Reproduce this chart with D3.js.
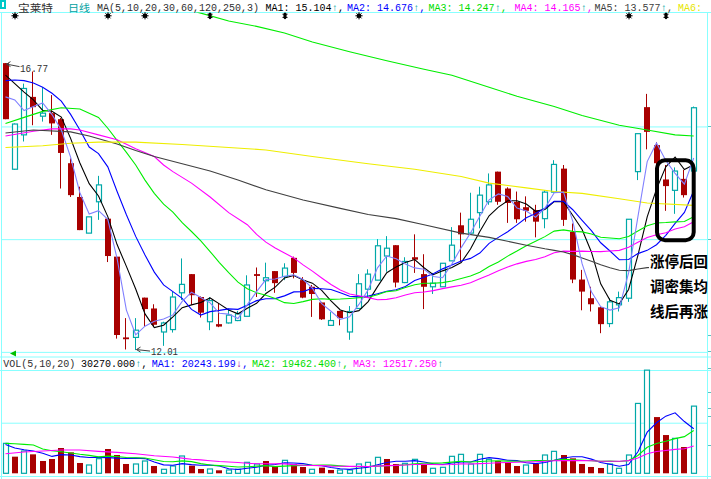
<!DOCTYPE html>
<html><head><meta charset="utf-8">
<script src="https://cdn.jsdelivr.net/npm/d3@7"></script>
<style>
html,body{margin:0;padding:0;background:#fff;overflow:hidden}
svg{display:block}
</style></head><body>
<svg id="c" width="711" height="479"></svg>
<script>
// ---------- data ----------
const open  = [16.77,15.01,15.58,16.21,15.89,15.94,15.84,15.11,14.55,13.95, 14.47,14.19,13.56,12.22,12.22,12.88,12.70,12.31,12.35,12.96, 13.27,12.89,12.48,12.44,12.46,12.50,12.57,13.27,13.16,13.32, 13.23,13.54,13.17,13.06,12.80,12.42,12.66,12.31,12.70,13.02, 13.17,13.57,13.75,13.13,13.55,13.27,13.06,13.06,13.49,14.08, 13.95,14.29,14.47,14.97,14.69,14.47,14.38,14.33,14.19,14.63, 15.02,13.97,13.18,12.87,12.72,12.45,12.76,12.87,14.97,16.04, 15.41,14.84,14.66,14.85,14.98];
const high  = [16.77,15.77,16.43,16.63,16.37,16.24,15.86,15.19,14.72,14.22, 14.90,14.19,13.56,12.54,12.54,12.88,12.77,12.48,12.98,13.53, 13.27,12.90,12.89,12.79,12.70,12.66,13.25,13.38,13.46,13.32, 13.45,13.56,13.22,13.09,12.81,12.64,12.66,12.74,13.27,13.35, 13.85,13.90,13.75,13.55,13.93,13.60,13.29,13.45,14.05,14.29, 14.62,14.72,14.94,14.97,14.71,14.64,14.56,14.42,14.66,15.16, 15.08,14.11,13.34,13.06,12.73,12.87,12.98,14.18,15.60,16.26, 15.46,15.08,15.04,15.00,16.05];
const low   = [15.84,15.00,15.47,15.74,15.80,15.58,14.69,14.55,14.00,13.95, 14.17,13.47,12.20,12.02,12.01,12.40,12.40,12.08,12.30,12.84, 12.76,12.55,12.34,12.39,12.45,12.49,12.57,12.89,12.99,12.96, 13.17,13.20,12.87,12.56,12.51,12.42,12.42,12.18,12.70,12.89, 13.17,13.31,13.05,13.12,13.29,12.69,12.94,13.06,13.49,13.47, 13.95,14.03,14.42,14.42,14.12,14.12,14.14,13.88,14.03,14.63, 14.07,13.12,12.67,12.65,12.29,12.39,12.65,12.81,14.83,15.34, 15.08,14.32,14.27,14.54,14.98];
const close = [15.84,15.76,16.35,16.04,15.94,15.77,15.28,14.58,14.00,14.22, 14.75,13.57,12.26,12.19,12.34,12.69,12.43,12.46,12.89,13.10, 12.92,12.63,12.83,12.40,12.59,12.61,13.09,13.24,13.21,13.12, 13.37,13.29,12.88,12.94,12.52,12.50,12.54,12.65,13.11,13.27, 13.74,13.70,13.13,13.48,13.51,13.06,13.12,13.45,13.75,13.93, 14.18,14.58,14.75,14.47,14.45,14.18,14.32,14.14,14.63,15.09, 14.17,13.18,12.98,12.77,12.44,12.81,12.88,14.18,15.60,15.63, 15.11,14.73,14.98,14.58,16.03];
const volume = [13494,7497,10045,8546,5547,6447,11395,9446,4648,3748, 6597,10945,8246,4198,4198,5547,3298,1799,3298,7797, 3448,1949,1949,1349,1499,1799,4948,4198,5547,3298, 5847,4198,2849,1799,2549,1499,1499,1499,4198,4948, 7197,6447,4198,4498,6297,4198,2249,2699,7647,8546, 4198,8546,6297,5547,4948,3298,3748,4198,8246,9896, 8246,6747,4198,2849,2399,4198,2249,8246,31486,46479, 25338,17242,15743,11845,30270];
const firstVolUp = true;   // colour of the first volume bar (previous close is off-chart)

const ma3Lead  = [[0,16.21],[1,16.16]];
const ma5Lead  = [[0,16.57],[1,16.43],[2,16.29],[3,16.16]];
const ma10Lead = [[0,16.48],[1,16.49],[2,16.48],[3,16.44],[4,16.37],[5,16.27],[6,16.14],[7,15.92],[8,15.66]];
const ma20Lead = [[0,15.77],[2,15.87],[4,15.97],[6,16.03],[8,16.01],[10,15.87],[11,15.69],[12,15.49],[13,15.29],[14,15.08],[15,14.83],[16,14.61],[17,14.43],[18,14.30]];
const ma30Lead = [[0,15.56],[3,15.64],[5,15.68],[7,15.68],[8,15.66],[10,15.58],[12,15.50],[14,15.35],[16,15.22],[17,15.08],[18,14.97],[20,14.78],[22,14.55],[24,14.29],[26,14.09],[27,13.93],[28,13.80]];
const ma60Lead = [[0,15.61],[3,15.66],[7,15.63],[9,15.56],[12,15.43],[14,15.32],[16,15.22],[19,15.10],[22,14.98],[25,14.83],[28,14.67],[32,14.50],[36,14.36],[39,14.26],[42,14.19],[45,14.09],[49,13.95],[52,13.88],[56,13.75],[58,13.69]];
const ma120Pts = [[0,15.37],[4,15.40],[7,15.44],[10,15.46],[14,15.46],[19,15.42],[24,15.37],[28,15.33],[33,15.22],[39,15.10],[44,15.01],[49,14.89],[52,14.78],[56,14.70],[59,14.64],[62,14.61],[66,14.52],[69,14.45],[74,14.41]];
const ma250Pts = [[20,17.64],[21,17.60],[24,17.47],[27,17.38],[30,17.27],[33,17.12],[37,16.96],[41,16.81],[45,16.67],[48,16.57],[52,16.37],[55,16.22],[59,16.05],[62,15.90],[66,15.74],[69,15.66],[72,15.58],[74,15.56]];
const vma5Lead  = [[0,13000],[1,11380],[2,10600],[3,10030]];
const vma10Lead = [[0,13490],[1,13300],[2,13040],[3,12730],[4,10930],[5,10170],[6,9720],[7,9130],[8,8550]];
const vma20Lead = [[0,8816],[2,9580],[4,10030],[6,10480],[8,10480],[10,9900],[12,9440],[14,8820],[16,7920],[18,7330]];

const gridPrices = [15.72, 13.85, 11.98];
const gridVol = [22800];
const maxLabel = "16.77", minLabel = "12.01";
const markerIdx  = [1,11,15,22,30,38,67,71];
const markerType = ["burst","burst","burst","spindle","spindle","burst","burst","spindle"];

const header1 = [
  {t:"MA(5,10,20,30,60,120,250,3)", c:"#303030", x:97},
  {t:"MA1: 15.104", c:"#000000", x:265.5, a:"↑"},
  {t:"MA2: 14.676", c:"#0000ff", x:347,   a:"↑"},
  {t:"MA3: 14.247", c:"#00dd00", x:428.5, a:"↑"},
  {t:"MA4: 14.165", c:"#ff00ff", x:514.5, a:"↑"},
  {t:"MA5: 13.577", c:"#404040", x:594.5, a:"↑"},
  {t:"MA6:",        c:"#e6e600", x:678}
];
const header2 = [
  {t:"VOL(5,10,20)",   c:"#303030", x:3.3},
  {t:"30270.000",      c:"#000000", x:81,    a:"↑"},
  {t:"MA1: 20243.199", c:"#0000ff", x:151.7, a:"↓", ac:"#a000a0"},
  {t:"MA2: 19462.400", c:"#00dd00", x:252,   a:"↑"},
  {t:"MA3: 12517.250", c:"#ff00ff", x:353,   a:"↑", last:true}
];
const noteLines = ["涨停后回","调密集均","线后再涨"];

// ---------- scales ----------
const N = close.length;
const x  = d3.scaleLinear().domain([0, N-1]).range([5.5, 693.7]);
const y  = d3.scaleLinear().domain([11.90, 17.61]).range([356.7, 12.5]);
const yv = d3.scaleLinear().domain([0, 46550]).range([473.3, 370]);

const RED = "#a80000", TEAL = "#00a8a8", GRID = "#88ffff";
const svg = d3.select("#c");
const mono = "'Liberation Mono', 'DejaVu Sans Mono', monospace";
const cjk = "'Noto Sans CJK SC', sans-serif";

svg.append("defs").append("clipPath").attr("id","pclip")
  .append("rect").attr("x",2).attr("y",12.5).attr("width",705.5).attr("height",344.2);

// ---------- grid and frame ----------
const gp = svg.append("g").attr("transform","translate(2,0)")
  .call(d3.axisRight(y).tickValues(gridPrices).tickSize(705.5).tickFormat(""));
gp.select(".domain").remove();
gp.selectAll("line").attr("stroke",GRID);
const gv = svg.append("g").attr("transform","translate(2,0)")
  .call(d3.axisRight(yv).tickValues(gridVol).tickSize(705.5).tickFormat(""));
gv.select(".domain").remove();
gv.selectAll("line").attr("stroke",GRID);

const frame = svg.append("g").attr("stroke",GRID).attr("stroke-width",1);
frame.append("line").attr("x1",0).attr("x2",711).attr("y1",12.5).attr("y2",12.5);
frame.append("line").attr("x1",0).attr("x2",711).attr("y1",357).attr("y2",357);
frame.append("line").attr("x1",0).attr("x2",711).attr("y1",yv.range()[1]+0.5).attr("y2",yv.range()[1]+0.5);
frame.append("line").attr("x1",0).attr("x2",711).attr("y1",476.5).attr("y2",476.5);
frame.append("line").attr("x1",1.5).attr("x2",1.5).attr("y1",12).attr("y2",479);
frame.append("line").attr("x1",707.5).attr("x2",707.5).attr("y1",12).attr("y2",479);
// right-edge tick stubs of the (cut off) right axis
[126.5,239.5,335.5,351.5,368.5,392.5,408.5,416.5,445.5].forEach(t=>{
  frame.append("line").attr("x1",708).attr("x2",711).attr("y1",t).attr("y2",t).attr("stroke","#60c0c0");
});

// ---------- candles ----------
const cx = i => Math.round(x(i));
const cg = svg.append("g").attr("clip-path","url(#pclip)");
d3.range(N).forEach(i=>{
  const up = close[i] >= open[i];
  const col = up ? TEAL : RED;
  const c = cx(i);
  cg.append("line").attr("x1",c-0.5).attr("x2",c-0.5)
    .attr("y1",y(high[i])).attr("y2",y(low[i])).attr("stroke",col).attr("stroke-width",1);
  const top = y(Math.max(open[i],close[i])), bot = y(Math.min(open[i],close[i]));
  if(up){
    cg.append("rect").attr("x",c-2.5).attr("width",5).attr("y",top)
      .attr("height",Math.max(bot-top,1)).attr("fill","#fff").attr("stroke",TEAL).attr("stroke-width",1.2);
  } else {
    cg.append("rect").attr("x",c-3).attr("width",6).attr("y",top)
      .attr("height",Math.max(bot-top,1.5)).attr("fill",RED);
  }
});

// ---------- volume bars ----------
const vg = svg.append("g");
d3.range(N).forEach(i=>{
  const up = i===0 ? firstVolUp : close[i] >= close[i-1];
  const c = cx(i);
  if(up){
    vg.append("rect").attr("x",c-2.5).attr("width",5).attr("y",yv(volume[i]))
      .attr("height",yv(0)-yv(volume[i])).attr("fill","#fff").attr("stroke",TEAL).attr("stroke-width",1.2);
  } else {
    vg.append("rect").attr("x",c-3).attr("width",6).attr("y",yv(volume[i]))
      .attr("height",yv(0)-yv(volume[i])).attr("fill",RED);
  }
});

// ---------- moving averages ----------
function movingAvg(vals, n, lead){
  const pts = lead.map(([i,v])=>({i,v}));
  for(let i=n-1;i<vals.length;i++) pts.push({i, v:d3.mean(vals.slice(i-n+1,i+1))});
  return pts;
}
const toPts = arr => arr.map(([i,v])=>({i,v}));
const lineP = d3.line().x(d=>x(d.i)).y(d=>y(d.v));
const lineV = d3.line().x(d=>x(d.i)).y(d=>yv(d.v));

const priceMAs = [
  {pts:movingAvg(close,5,ma5Lead),   c:"#000000"},
  {pts:movingAvg(close,10,ma10Lead), c:"#0000ff"},
  {pts:movingAvg(close,20,ma20Lead), c:"#00ee00"},
  {pts:movingAvg(close,30,ma30Lead), c:"#ff00ff"},
  {pts:movingAvg(close,60,ma60Lead), c:"#404040"},
  {pts:toPts(ma120Pts),              c:"#eeee00"},
  {pts:toPts(ma250Pts),              c:"#00ee00"},
  {pts:movingAvg(close,3,ma3Lead),   c:"#8080ff"}
];
const lg = svg.append("g").attr("clip-path","url(#pclip)");
priceMAs.forEach(m=>{
  lg.append("path").attr("d",lineP(m.pts)).attr("fill","none").attr("stroke",m.c).attr("stroke-width",1.1);
});
const volMAs = [
  {pts:movingAvg(volume,5,vma5Lead),   c:"#0000ff"},
  {pts:movingAvg(volume,10,vma10Lead), c:"#00ee00"},
  {pts:movingAvg(volume,20,vma20Lead), c:"#ff00ff"}
];
volMAs.forEach(m=>{
  svg.append("path").attr("d",lineV(m.pts)).attr("fill","none").attr("stroke",m.c).attr("stroke-width",1.1);
});

// ---------- event markers ----------
const mg = svg.append("g");
markerIdx.forEach((i,k)=>{
  const c = cx(i), yy = 15.8;
  if(markerType[k]==="burst"){
    mg.append("circle").attr("cx",c).attr("cy",yy).attr("r",2.3).attr("fill","#000");
    d3.range(8).forEach(j=>{
      const a = j*Math.PI/4;
      mg.append("line").attr("x1",c).attr("y1",yy).attr("x2",c+3.6*Math.cos(a)).attr("y2",yy+3.6*Math.sin(a))
        .attr("stroke","#000").attr("stroke-width",1);
    });
  } else {
    mg.append("ellipse").attr("cx",c).attr("cy",yy).attr("rx",1.6).attr("ry",3.4).attr("fill","#000");
    [-1.6,1.6].forEach(o=>mg.append("line").attr("x1",c-2.5).attr("x2",c+2.5)
      .attr("y1",yy+o).attr("y2",yy+o).attr("stroke","#000").attr("stroke-width",1));
  }
});

// ---------- max / min labels ----------
const iMax = d3.maxIndex(high), iMin = d3.minIndex(low);
function pointer(px,py,tx,ty){
  svg.append("line").attr("x1",px).attr("y1",py).attr("x2",tx).attr("y2",ty).attr("stroke","#404040");
  svg.append("path").attr("d",`M${px+4},${py-2.5}L${px},${py}L${px+4},${py+2.5}`).attr("fill","none").attr("stroke","#404040");
}
pointer(cx(iMax)+0.5, y(high[iMax])+1, 19.5, y(high[iMax])+3.5);
svg.append("text").attr("x",20).attr("y",y(high[iMax])+8.5).text(maxLabel)
  .attr("font-family",mono).attr("font-size",11).attr("fill","#303030").attr("textLength",28).attr("lengthAdjust","spacingAndGlyphs");
pointer(cx(iMin)+0.5, y(low[iMin])-0.5, 150, y(low[iMin])+1);
svg.append("text").attr("x",151).attr("y",y(low[iMin])+5).text(minLabel)
  .attr("font-family",mono).attr("font-size",11).attr("fill","#303030").attr("textLength",27).attr("lengthAdjust","spacingAndGlyphs");

// ---------- header texts ----------
svg.append("rect").attr("x",0).attr("y",0).attr("width",6).attr("height",9).attr("fill","#00c8c8");
svg.append("rect").attr("x",2).attr("y",2).attr("width",2).attr("height",5).attr("fill","#fff");
svg.append("text").attr("x",18).attr("y",11.8).text("宝莱特").attr("font-family",cjk).attr("font-size",10)
  .attr("fill","#303030").attr("textLength",35).attr("lengthAdjust","spacingAndGlyphs");
svg.append("text").attr("x",68).attr("y",11.8).text("日线").attr("font-family",cjk).attr("font-size",10)
  .attr("fill","#00a0a0").attr("textLength",22).attr("lengthAdjust","spacingAndGlyphs");
function headerRow(items, by){
  items.forEach(h=>{
    const n = h.t.length * 6;           // 10px monospace: 6px per character
    svg.append("text").attr("x",h.x).attr("y",by).text(h.t).attr("font-family",mono).attr("font-size",10)
      .attr("fill",h.c);
    if(h.a){
      svg.append("text").attr("x",h.x+n+0.5).attr("y",by).text(h.a).attr("font-family",mono)
        .attr("font-size",10).attr("fill",h.ac||"#00a0a0");
      if(!h.last) svg.append("text").attr("x",h.x+n+6.5).attr("y",by).text(",").attr("font-family",mono)
        .attr("font-size",10).attr("fill",h.c);
    }
  });
}
headerRow(header1, 10.5);
headerRow(header2, 367.3);

// small green triangle on the price panel bottom-left
svg.append("path").attr("d","M10,353.5L16,350.5L16,356.5Z").attr("fill","#00c000");

// ---------- annotation ----------
svg.append("rect").attr("x",657).attr("y",160.3).attr("width",36.7).attr("height",80)
  .attr("rx",8).attr("fill","none").attr("stroke","#000").attr("stroke-width",4);
svg.append("rect").attr("x",649).attr("y",252).attr("width",58).attr("height",70).attr("fill","#fff");
noteLines.forEach((t,k)=>{
  svg.append("text").attr("x",650).attr("y",266.5+k*25).text(t).attr("font-family",cjk)
    .attr("font-size",15).attr("font-weight","bold").attr("fill","#000")
    .attr("textLength",58).attr("lengthAdjust","spacingAndGlyphs");
});
</script>
</body></html>
